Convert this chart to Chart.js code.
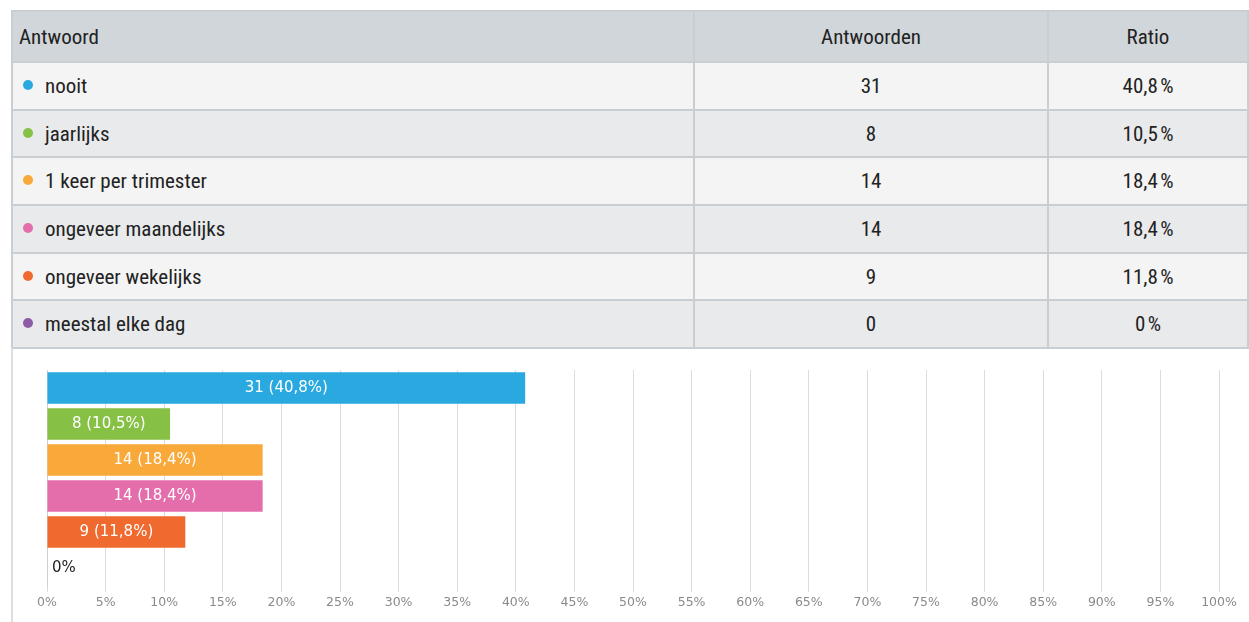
<!DOCTYPE html>
<html>
<head>
<meta charset="utf-8">
<script src="https://cdn.jsdelivr.net/npm/chart.js@4/dist/chart.umd.min.js"></script>
<style>
    body { margin: 0; background: #fff; width: 1249px; height: 622px; overflow: hidden; }
    #wrap { position: absolute; left: 11px; top: 10px; width: 1238px; }
    table { border-collapse: collapse; table-layout: fixed; width: 1238px; font-family: "Liberation Sans Narrow", "Roboto Condensed", "DejaVu Sans Condensed", sans-serif; font-stretch: condensed; font-size: 21px; color: #222; }
    th, td { padding: 0; border: 2px solid #c9ced2; text-align: center; }
    th { height: 49px; background: #d0d6da; font-weight: normal; }
    td { height: 45.7px; }
    th:first-child, td:first-child { text-align: left; padding-left: 6px; }
    tr.odd td { background: #f4f4f4; }
    tr.even td { background: #e8eaec; }
    .dot { display: inline-block; width: 10px; height: 10px; border-radius: 50%; margin: 0 12px 0 4px; vertical-align: 3px; }
    #chartBox { position: absolute; left: 11px; top: 348px; width: 1238px; height: 274px; border-left: 2px solid #dcdfe1; box-sizing: border-box; }
</style>
</head>
<body>
<div id="wrap">
    <table id="tbl">
        <colgroup><col style="width:682px"><col style="width:354px"><col></colgroup>
        <thead>
            <tr><th>Antwoord</th><th>Antwoorden</th><th>Ratio</th></tr>
        </thead>
        <tbody id="tbody"></tbody>
    </table>
</div>
<div id="chartBox"><canvas id="barChart"></canvas></div>
<script>
const categories = ['nooit', 'jaarlijks', '1 keer per trimester', 'ongeveer maandelijks', 'ongeveer wekelijks', 'meestal elke dag'];
const counts = [31, 8, 14, 14, 9, 0];
const ratios = [40.8, 10.5, 18.4, 18.4, 11.8, 0];
const colors = ['#29a9e0', '#86c045', '#f8a93a', '#e46eab', '#f06a2f', '#8c5aa6'];
const xTicks = [0, 5, 10, 15, 20, 25, 30, 35, 40, 45, 50, 55, 60, 65, 70, 75, 80, 85, 90, 95, 100];

function fmt(v) {
    return v === 0 ? '0' : v.toFixed(1).replace('.', ',');
}

// table rows
const tbody = document.getElementById('tbody');
categories.forEach(function(cat, i) {
    const tr = document.createElement('tr');
    tr.className = i % 2 === 0 ? 'odd' : 'even';
    tr.innerHTML = '<td><span class="dot" style="background:' + colors[i] + '"></span>' + cat + '</td>' +
        '<td>' + counts[i] + '</td><td>' + fmt(ratios[i]) + '\u202f%</td>';
    tbody.appendChild(tr);
});

// labels inside the bars
const barLabels = {
    id: 'barLabels',
    afterDatasetsDraw(chart) {
        const ctx = chart.ctx;
        const meta = chart.getDatasetMeta(0);
        ctx.save();
        ctx.font = '15px "DejaVu Sans", sans-serif';
        ctx.textBaseline = 'middle';
        meta.data.forEach(function(bar, i) {
            if (counts[i] === 0) {
                ctx.fillStyle = '#222';
                ctx.textAlign = 'left';
                ctx.fillText('0%', bar.base + 5, bar.y);
            } else {
                ctx.fillStyle = '#fff';
                ctx.textAlign = 'center';
                ctx.fillText(counts[i] + ' (' + fmt(ratios[i]) + '%)', (bar.base + bar.x) / 2, bar.y);
            }
        });
        ctx.restore();
    }
};

new Chart(document.getElementById('barChart').getContext('2d'), {
    type: 'bar',
    data: {
        labels: categories,
        datasets: [{
            data: ratios,
            backgroundColor: colors,
            borderWidth: 0,
            barPercentage: 0.88,
            categoryPercentage: 1
        }]
    },
    options: {
        indexAxis: 'y',
        responsive: true,
        maintainAspectRatio: false,
        animation: false,
        layout: { padding: { left: 26, top: 22, right: 30, bottom: 9 } },
        plugins: { legend: { display: false }, tooltip: { enabled: false } },
        scales: {
            x: {
                min: 0,
                max: 100,
                afterBuildTicks: function(axis) { axis.ticks = xTicks.map(v => ({ value: v })); },
                grid: { color: '#dcdcdc', tickLength: 6 },
                border: { display: false },
                ticks: {
                    color: '#8a8a8a',
                    font: { family: 'DejaVu Sans', size: 12.5 },
                    maxRotation: 0,
                    autoSkip: false,
                    callback: v => v + '%'
                }
            },
            y: {
                grid: { display: false },
                border: { color: '#cfcfcf' },
                ticks: { display: false }
            }
        }
    },
    plugins: [barLabels]
});
</script>
</body>
</html>
